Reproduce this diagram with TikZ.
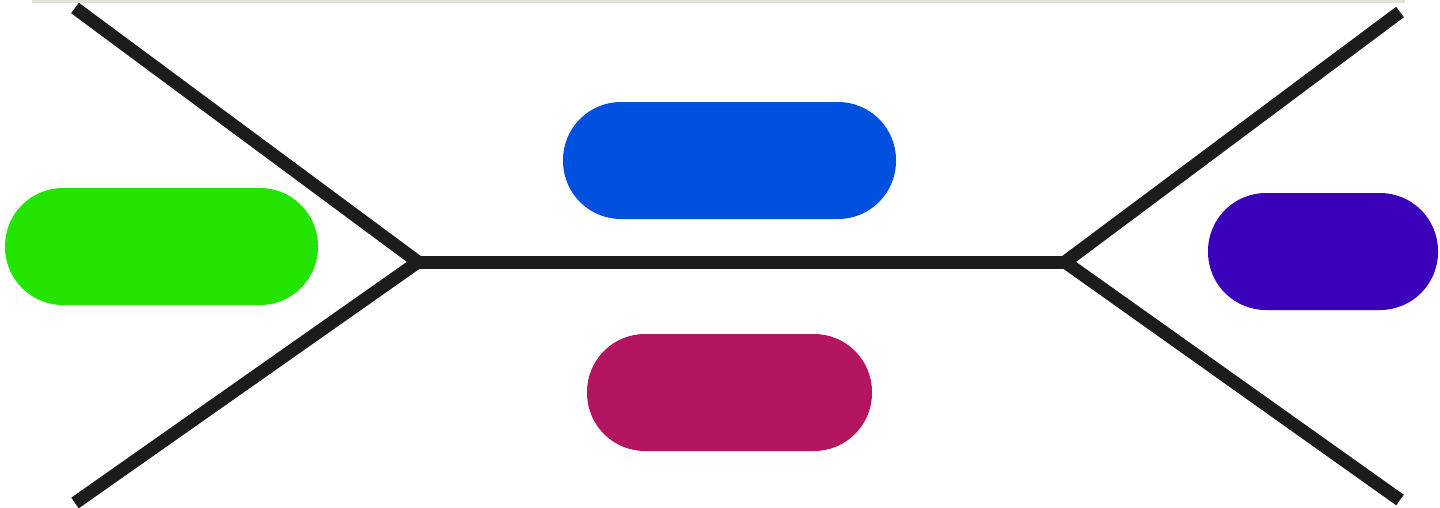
\documentclass[tikz,border=0pt]{standalone}
\definecolor{stripgray}{RGB}{226,226,216}
\definecolor{linedark}{RGB}{28,28,28}
\definecolor{pillgreen}{RGB}{34,228,0}
\definecolor{pillblue}{RGB}{0,80,224}
\definecolor{pillpurple}{RGB}{58,0,186}
\definecolor{pillmagenta}{RGB}{179,21,96}
\begin{document}
\begin{tikzpicture}[x=1pt,y=-1pt,
  pill/.style={rectangle,rounded corners=58pt,inner sep=0pt,draw=none,minimum height=117pt},
  branch/.style={line width=13pt,draw=linedark,line join=miter}]
\useasboundingbox (0,0) rectangle (1440,507);
\fill[white] (0,0) rectangle (1440,507);
\fill[stripgray] (32,0) rectangle (1405,3);
\coordinate (jl) at (418,262);
\coordinate (jr) at (1065,262);
\coordinate (tl) at (75,8);
\coordinate (bl) at (75,503);
\coordinate (tr) at (1400,12);
\coordinate (br) at (1400,500);
\draw[branch] (tl) -- (jl) -- (bl);
\draw[branch] (jl) -- (jr);
\draw[branch] (tr) -- (jr) -- (br);
\node[pill,fill=pillgreen,minimum width=313pt] (green) at (161.5,246.5) {};
\node[pill,fill=pillblue,minimum width=333pt] (blue) at (729.5,160.5) {};
\node[pill,fill=pillpurple,minimum width=230pt] (purple) at (1323,251.5) {};
\node[pill,fill=pillmagenta,minimum width=285pt] (magenta) at (729.5,392.5) {};
\end{tikzpicture}
\end{document}
